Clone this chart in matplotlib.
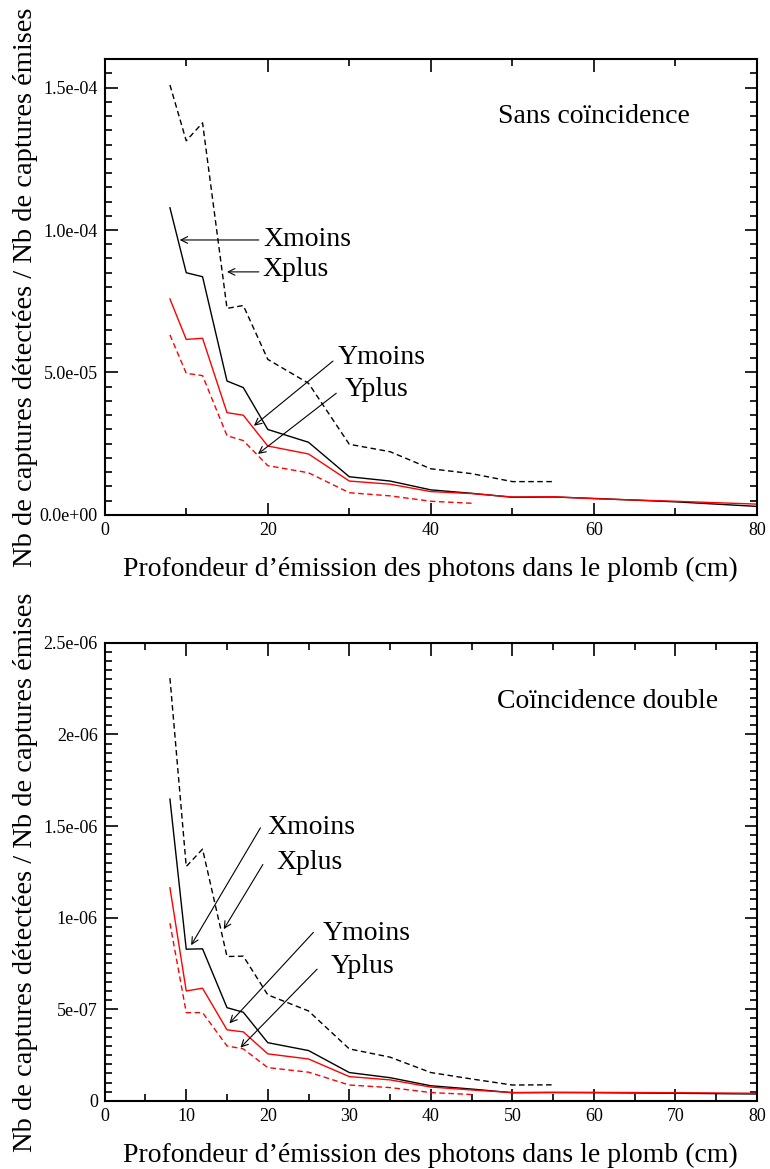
import matplotlib
matplotlib.use("Agg")
import matplotlib.pyplot as plt
from matplotlib.ticker import MultipleLocator, FuncFormatter

plt.rcParams['font.family'] = ['Liberation Serif', 'DejaVu Serif']

# profondeur (cm)
depth = [8, 10, 12, 15, 17, 20, 25, 30, 35, 40, 45, 50, 55, 60, 70, 80]
depth_xplus = depth[:13]   # jusqu'a 55 cm
depth_yplus = depth[:11]   # jusqu'a 45 cm

# Sans coincidence
sc_xmoins = [1.078e-4, 8.5e-5, 8.36e-5, 4.70e-5, 4.47e-5, 3.0e-5, 2.55e-5, 1.34e-5,
             1.19e-5, 8.8e-6, 7.6e-6, 6.2e-6, 6.3e-6, 5.8e-6, 4.6e-6, 3.0e-6]
sc_xplus = [1.509e-4, 1.313e-4, 1.376e-4, 7.25e-5, 7.35e-5, 5.46e-5, 4.62e-5, 2.48e-5,
            2.22e-5, 1.62e-5, 1.45e-5, 1.17e-5, 1.17e-5]
sc_ymoins = [7.58e-5, 6.16e-5, 6.2e-5, 3.59e-5, 3.5e-5, 2.42e-5, 2.14e-5, 1.19e-5,
             1.08e-5, 8.2e-6, 7.5e-6, 6.3e-6, 6.4e-6, 5.7e-6, 4.8e-6, 3.8e-6]
sc_yplus = [6.32e-5, 4.97e-5, 4.89e-5, 2.78e-5, 2.61e-5, 1.73e-5, 1.48e-5, 7.8e-6,
            6.7e-6, 4.8e-6, 4.1e-6]

# Coincidence double
cd_xmoins = [1.647e-6, 8.28e-7, 8.3e-7, 5.09e-7, 4.84e-7, 3.18e-7, 2.75e-7, 1.55e-7,
             1.27e-7, 8.3e-8, 6.5e-8, 4.5e-8, 4.6e-8, 4.5e-8, 4.2e-8, 3.8e-8]
cd_xplus = [2.307e-6, 1.279e-6, 1.374e-6, 7.88e-7, 7.9e-7, 5.79e-7, 4.91e-7, 2.84e-7,
            2.39e-7, 1.55e-7, 1.2e-7, 8.7e-8, 8.8e-8]
cd_ymoins = [1.163e-6, 6.0e-7, 6.15e-7, 3.88e-7, 3.77e-7, 2.57e-7, 2.29e-7, 1.33e-7,
             1.15e-7, 7.6e-8, 6.0e-8, 4.6e-8, 4.7e-8, 4.7e-8, 4.5e-8, 4.2e-8]
cd_yplus = [9.7e-7, 4.82e-7, 4.82e-7, 3.0e-7, 2.84e-7, 1.82e-7, 1.57e-7, 8.7e-8,
            7.3e-8, 4.6e-8, 3.5e-8]

xlabel = "Profondeur d\u2019\u00e9mission des photons dans le plomb (cm)"
ylabel = "Nb de captures d\u00e9tect\u00e9es / Nb de captures \u00e9mises"

dash = (0, (4, 2.5))


def style_axes(ax, ymax, ymajor, yminor, xmajor, xminor, yfmt):
    ax.set_xlim(0, 80)
    ax.set_ylim(0, ymax)
    ax.xaxis.set_major_locator(MultipleLocator(xmajor))
    ax.xaxis.set_minor_locator(MultipleLocator(xminor))
    ax.yaxis.set_major_locator(MultipleLocator(ymajor))
    ax.yaxis.set_minor_locator(MultipleLocator(yminor))
    ax.yaxis.set_major_formatter(FuncFormatter(yfmt))
    ax.tick_params(which='both', direction='in', top=True, right=True,
                   labelsize=13, width=1.2, pad=5)
    ax.tick_params(which='major', length=9)
    ax.tick_params(which='minor', length=5)
    for s in ax.spines.values():
        s.set_linewidth(1.5)
    ax.set_xlabel(xlabel, fontsize=20, labelpad=13)
    ax.set_ylabel(ylabel, fontsize=20.5)
    ax.yaxis.set_label_coords(-0.103, 0.5)


def add_arrow(ax, label, text_xy, tail, head):
    ax.annotate('', xy=head, xytext=tail,
                arrowprops=dict(arrowstyle='->', color='black', lw=0.8,
                                shrinkA=0, shrinkB=0, mutation_scale=12))
    ax.text(text_xy[0], text_xy[1], label, fontsize=20, va='center', ha='left')


fig = plt.figure(figsize=(7.7, 11.69), dpi=100)
ax1 = fig.add_axes([0.136, 0.5595, 0.847, 0.390])
ax2 = fig.add_axes([0.136, 0.0582, 0.847, 0.392])

# panneau haut
ax1.plot(depth, sc_xmoins, color='black', lw=1.0)
ax1.plot(depth_xplus, sc_xplus, color='black', lw=1.0, linestyle=dash)
ax1.plot(depth, sc_ymoins, color='red', lw=1.0)
ax1.plot(depth_yplus, sc_yplus, color='red', lw=1.0, linestyle=dash)
style_axes(ax1, 1.6e-4, 5e-5, 5e-6, 20, 10, lambda v, p: '%.1e' % v)
ax1.text(48.2, 1.40e-4, "Sans co\u00efncidence", fontsize=20, va='center', ha='left')
add_arrow(ax1, "Xmoins", (19.5, 9.65e-5), (18.9, 9.65e-5), (9.2, 9.65e-5))
add_arrow(ax1, "Xplus", (19.3, 8.6e-5), (18.9, 8.53e-5), (15.0, 8.53e-5))
add_arrow(ax1, "Ymoins", (28.6, 5.54e-5), (28.0, 5.4e-5), (18.3, 3.13e-5))
add_arrow(ax1, "Yplus", (29.4, 4.39e-5), (28.4, 4.27e-5), (18.8, 2.14e-5))

# panneau bas
ax2.plot(depth, cd_xmoins, color='black', lw=1.0)
ax2.plot(depth_xplus, cd_xplus, color='black', lw=1.0, linestyle=dash)
ax2.plot(depth, cd_ymoins, color='red', lw=1.0)
ax2.plot(depth_yplus, cd_yplus, color='red', lw=1.0, linestyle=dash)
style_axes(ax2, 2.5e-6, 5e-7, 5e-8, 10, 5, lambda v, p: '%g' % v)
ax2.text(48.1, 2.18e-6, "Co\u00efncidence double", fontsize=20, va='center', ha='left')
add_arrow(ax2, "Xmoins", (20.0, 1.49e-6), (19.1, 1.49e-6), (10.6, 8.5e-7))
add_arrow(ax2, "Xplus", (21.0, 1.30e-6), (19.4, 1.29e-6), (14.6, 9.37e-7))
add_arrow(ax2, "Ymoins", (26.7, 9.15e-7), (25.6, 9.2e-7), (15.3, 4.24e-7))
add_arrow(ax2, "Yplus", (27.7, 7.33e-7), (26.05, 7.19e-7), (16.65, 2.91e-7))

fig.savefig('out.png', dpi=100)
plt.close(fig)
